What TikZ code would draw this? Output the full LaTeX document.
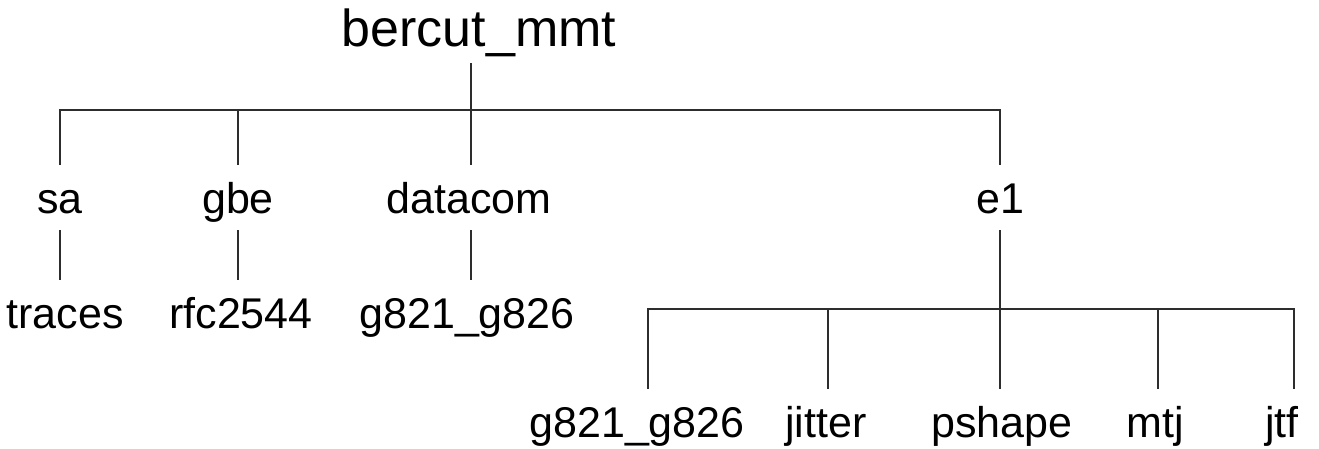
\documentclass[tikz,border=0pt]{standalone}
\usepackage{fontspec}
\setmainfont{Liberation Sans}
\definecolor{linec}{RGB}{45,45,45}
\begin{document}
\begin{tikzpicture}[x=1pt,y=-1pt,
  lbl/.style={anchor=base,font=\fontsize{43}{48}\selectfont,text height=32pt,text depth=1pt,inner xsep=0pt,inner ysep=16pt},
  rootlbl/.style={anchor=base,font=\fontsize{52}{60}\selectfont,text depth=16pt,inner xsep=0pt,inner ysep=0pt},
  conn/.style={draw=linec,line width=1.6pt}]
\useasboundingbox (0,0) rectangle (1319,449);
% nodes
\node[rootlbl] (root) at (479,47) {bercut\_mmt};
\node[lbl] (sa) at (60,213) {sa};
\node[lbl] (gbe) at (238,213) {gbe};
\node[lbl] (datacom) at (469,213) {datacom};
\node[lbl] (e1) at (1000,213) {e1};
\node[lbl] (traces) at (65,328) {traces};
\node[lbl] (rfc) at (241,328) {rfc2544};
\node[lbl] (g1) at (467,328) {g821\_g826};
\node[lbl] (g2) at (637,437) {g821\_g826};
\node[lbl] (jitter) at (826,437) {jitter};
\node[lbl] (pshape) at (1002,437) {pshape};
\node[lbl] (mtj) at (1155,437) {mtj};
\node[lbl] (jtf) at (1282,437) {jtf};
% bus points
\coordinate (j0) at (471,110);
\coordinate (sax) at (60,110);
\coordinate (gbex) at (238,110);
\coordinate (e1x) at (1000,110);
\coordinate (j1) at (1000,309);
\coordinate (d1) at (648,309);
\coordinate (d2) at (828,309);
\coordinate (d4) at (1158,309);
\coordinate (d5) at (1294,309);
% connectors
\draw[conn] (j0 |- root.south) -- (j0);
\draw[conn] (sax |- sa.north) -- (sax) -- (e1x) -- (e1x |- e1.north);
\draw[conn] (gbex |- gbe.north) -- (gbex);
\draw[conn] (j0 |- datacom.north) -- (j0);
\draw[conn] (sax |- sa.south) -- (sax |- traces.north);
\draw[conn] (gbex |- gbe.south) -- (gbex |- rfc.north);
\draw[conn] (j0 |- datacom.south) -- (j0 |- g1.north);
\draw[conn] (j1 |- e1.south) -- (j1);
\draw[conn] (d1 |- g2.north) -- (d1) -- (d5) -- (d5 |- jtf.north);
\draw[conn] (d2) -- (d2 |- jitter.north);
\draw[conn] (j1) -- (j1 |- pshape.north);
\draw[conn] (d4) -- (d4 |- mtj.north);
\end{tikzpicture}
\end{document}
